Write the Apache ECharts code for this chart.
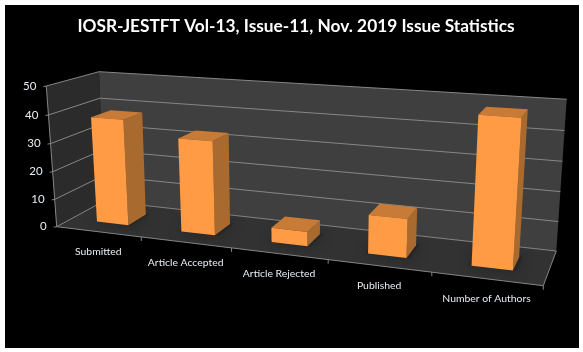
<!DOCTYPE html>
<html>
<head>
<meta charset="utf-8">
<style>
  html, body { margin: 0; padding: 0; background: #fff; }
  #chart { width: 583px; height: 352px; }
</style>
</head>
<body>
<div id="chart"></div>
<script src="https://cdn.jsdelivr.net/npm/echarts@6/dist/echarts.min.js"></script>
<script>
  const categories = ['Submitted', 'Article Accepted', 'Article Rejected', 'Published', 'Number of Authors'];
  const issueValues = [38, 33, 5, 13, 48];
  const yTicks = [0, 10, 20, 30, 40, 50];

  // 3d box corners of the plot, in page pixels
  const frontPlane = [[56.7, 226.7], [543.3, 285.7], [554, 120], [46.3, 86]];
  const backPlane = [[104, 201], [556.3, 251], [566.7, 99.3], [99, 71.7]];
  const barHalf = 0.038; // half bar width, as part of the whole axis
  const barFront = 0.32;
  const barBack = 0.72;

  // unit square -> quad
  function homography(q) {
    const [p0, p1, p2, p3] = q;
    const dx1 = p1[0] - p2[0], dx2 = p3[0] - p2[0], sx = p0[0] - p1[0] + p2[0] - p3[0];
    const dy1 = p1[1] - p2[1], dy2 = p3[1] - p2[1], sy = p0[1] - p1[1] + p2[1] - p3[1];
    const det = dx1 * dy2 - dx2 * dy1;
    const g = (sx * dy2 - dx2 * sy) / det;
    const h = (dx1 * sy - sx * dy1) / det;
    const a = p1[0] - p0[0] + g * p1[0], b = p3[0] - p0[0] + h * p3[0];
    const d = p1[1] - p0[1] + g * p1[1], e = p3[1] - p0[1] + h * p3[1];
    return (u, v) => {
      const k = g * u + h * v + 1;
      return [(a * u + b * v + p0[0]) / k, (d * u + e * v + p0[1]) / k];
    };
  }
  const front = homography(frontPlane);
  const back = homography(backPlane);

  function project(u, v, w) {
    const f = front(u, v), b = back(u, v);
    return [f[0] + (b[0] - f[0]) * w, f[1] + (b[1] - f[1]) * w];
  }

  // flat grid position -> 0..1 on both axes, this keeps the axes as the scales
  function unit(params, api, cat, val) {
    const cs = params.coordSys;
    const pt = api.coord([cat, val]);
    return [(pt[0] - cs.x) / cs.width, (cs.y + cs.height - pt[1]) / cs.height];
  }

  function face(points, fill, extra) {
    return {
      type: 'polygon',
      shape: {points: points},
      style: Object.assign({fill: fill}, extra || {})
    };
  }
  function segment(a, b, color) {
    return {
      type: 'line',
      shape: {x1: a[0], y1: a[1], x2: b[0], y2: b[1]},
      style: {stroke: color, lineWidth: 1}
    };
  }
  function label(text, x, y, align, size) {
    return {
      type: 'text',
      style: {
        text: text, x: x, y: y, fill: '#e8eef4',
        font: size + 'px Lato', align: align, verticalAlign: 'middle'
      }
    };
  }

  function renderWalls() {
    return {
      type: 'group',
      children: [
        face([project(0, 0, 0), project(0, 1, 0), project(0, 1, 1), project(0, 0, 1)], '#2b2b2b'),
        face([project(0, 0, 1), project(0, 1, 1), project(1, 1, 1), project(1, 0, 1)], '#3f3f3f'),
        face([project(0, 0, 0), project(1, 0, 0), project(1, 0, 1), project(0, 0, 1)], '#323232'),
        segment(project(0, 0, 0), project(0, 1, 0), '#868686'),
        segment(project(0, 0, 0), project(1, 0, 0), '#868686'),
        segment(project(1, 0, 0), project(1, 0, 1), '#868686')
      ]
    };
  }

  function renderLevel(params, api) {
    const val = api.value(1);
    const v = unit(params, api, 0, val)[1];
    const a = project(0, v, 0), b = project(0, v, 1), c = project(1, v, 1);
    return {
      type: 'group',
      children: [
        segment(a, b, '#868686'),
        segment(b, c, '#868686'),
        segment(a, [a[0] - 3, a[1] + 0.5], '#868686'),
        label(String(val), a[0] - 10, a[1], 'right', 11.5)
      ]
    };
  }

  function renderCategory(params, api) {
    const i = api.value(0);
    const half = api.size([1, 0])[0] / params.coordSys.width / 2;
    const u = unit(params, api, i, 0)[0];
    const tick = project(u + half, 0, 0);
    const mid = project(u, 0, 0);
    const kids = [
      segment(tick, [tick[0], tick[1] + 4], '#868686'),
      label(categories[i], mid[0], mid[1] + 20, 'center', 10.4)
    ];
    return {type: 'group', children: kids};
  }

  function renderBar(params, api) {
    const i = api.value(0);
    const u = unit(params, api, i, 0)[0];
    const top = unit(params, api, i, api.value(1))[1];
    const l = u - barHalf, r = u + barHalf;
    const p = (a, b, c) => project(a, b, c);
    const shadowPad = 0.006;
    return {
      type: 'group',
      children: [
        face([
          p(l - shadowPad, 0, barFront), p(r + shadowPad, 0, barFront),
          p(r + shadowPad, 0, barBack + 0.03), p(l - shadowPad, 0, barBack + 0.03)
        ], 'rgba(38,38,38,0.8)', {shadowBlur: 12, shadowColor: 'rgba(32,32,32,0.9)'}),
        face([p(r, 0, barFront), p(r, top, barFront), p(r, top, barBack), p(r, 0, barBack)], '#a96a2f'),
        face([p(l, top, barFront), p(r, top, barFront), p(r, top, barBack), p(l, top, barBack)], '#c77b37'),
        face([p(l, 0, barFront), p(r, 0, barFront), p(r, top, barFront), p(l, top, barFront)], '#ff9a45')
      ]
    };
  }

  const myChart = echarts.init(document.getElementById('chart'));
  myChart.setOption({
    animation: false,
    backgroundColor: '#fff',
    graphic: {
      elements: [{
        type: 'rect', z: -10, silent: true,
        shape: {x: 5, y: 5, width: 574, height: 343},
        style: {fill: '#000'}
      }]
    },
    title: {
      text: 'IOSR-JESTFT Vol-13, Issue-11, Nov. 2019 Issue Statistics',
      left: 291, top: 13, textAlign: 'center',
      textStyle: {color: '#fff', fontFamily: 'Lato', fontWeight: 'bold', fontSize: 17.3}
    },
    grid: {left: 0, right: 0, top: 0, bottom: 0},
    xAxis: {type: 'category', data: categories, show: false},
    yAxis: {type: 'value', min: 0, max: 50, interval: 10, show: false},
    series: [
      {type: 'custom', name: 'walls', renderItem: renderWalls, data: [[0, 0]], z: 1, silent: true},
      {type: 'custom', name: 'levels', renderItem: renderLevel, data: yTicks.map(t => [0, t]), z: 2, silent: true},
      {type: 'custom', name: 'cats', renderItem: renderCategory, data: categories.map((c, i) => [i, 0]), z: 2, silent: true},
      {type: 'custom', name: 'Issue', renderItem: renderBar, data: issueValues.map((v, i) => [i, v]), z: 3, silent: true}
    ]
  });
</script>
</body>
</html>
